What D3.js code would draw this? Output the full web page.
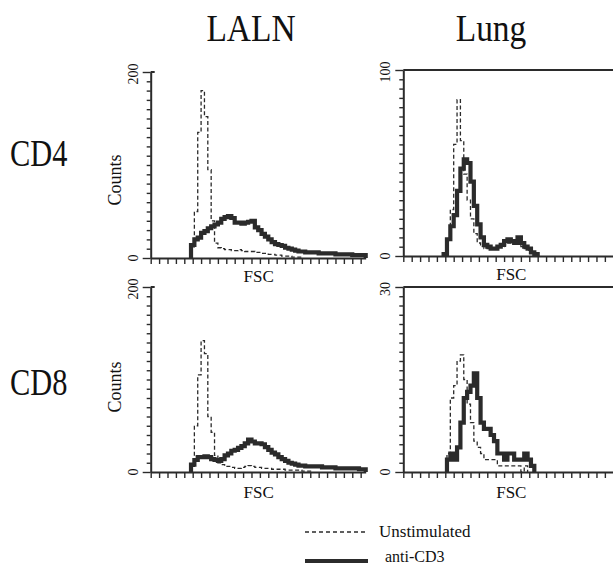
<!DOCTYPE html>
<html>
<head>
<meta charset="utf-8">
<script src="https://cdn.jsdelivr.net/npm/d3@7"></script>
<style>
  body { margin: 0; background: #fff; }
  text { font-family: "Liberation Serif", "Times New Roman", serif; fill: #111; }
</style>
</head>
<body>
<script>
// FSC histograms, 64 bins of 16 channels each (0-1024)
var tissues = ['LALN', 'Lung'];
var subsets = ['CD4', 'CD8'];
var yMaxima = [200, 100, 200, 30];   // LALN CD4, Lung CD4, LALN CD8, Lung CD8
var binWidth = 16;
var channels = d3.range(64).map(function (i) { return i * binWidth; });
var legendLabels = ['Unstimulated', 'anti-CD3'];

var lalnCD4Unstim = [0,0,0,0,0,0,0,0,0,0,0,0,
  12,50,135,180,152,95,40,16,11,10,9,9,8,8,9,8,7,7,7,6,6,5,5,4,4,3,3,2,2,2,1,1,1,
  0,0,0,0,0,0,0,0,0,0,0,0,0,0,0,0,0,0,0];
var lalnCD4Stim = [0,0,0,0,0,0,0,0,0,0,0,0,
  14,20,22,27,29,32,34,36,38,42,44,45,43,38,38,37,38,39,40,33,30,26,23,20,17,15,14,13,11,10,
  9,8,7,7,6,6,6,6,5,5,5,5,5,4,4,4,4,4,3,3,3,3];
var lungCD4Unstim = [0,0,0,0,0,0,0,0,0,0,0,0,0,
  8,25,60,84,62,44,30,20,12,7,5,4,4,4,4,5,5,6,7,8,8,7,5,4,3,2,1,
  0,0,0,0,0,0,0,0,0,0,0,0,0,0,0,0,0,0,0,0,0,0,0,0];
var lungCD4Stim = [0,0,0,0,0,0,0,0,0,0,0,0,
  1,9,16,22,35,47,52,50,40,27,17,10,6,5,4,4,5,6,8,9,8,7,10,7,5,4,2,1,
  0,0,0,0,0,0,0,0,0,0,0,0,0,0,0,0,0,0,0,0,0,0,0,0];
var lalnCD8Unstim = [0,0,0,0,0,0,0,0,0,0,0,0,
  6,50,105,142,128,60,43,18,10,8,6,6,5,4,4,5,6,7,6,5,5,4,4,4,3,3,3,3,2,2,2,2,2,1,1,1,
  0,0,0,0,0,0,0,0,0,0,0,0,0,0,0,0];
var lalnCD8Stim = [0,0,0,0,0,0,0,0,0,0,0,0,
  8,13,16,16,17,16,14,13,12,14,18,20,23,24,26,28,31,35,33,31,31,30,27,24,21,19,16,14,12,10,
  9,8,7,7,6,6,6,6,6,5,5,5,5,4,4,4,4,4,4,4,3,3];
var lungCD8Unstim = [0,0,0,0,0,0,0,0,0,0,0,0,0,
  3,12,14,18,19,15,11,8,5,4,3,2,2,2,2,1,1,1,1,1,1,1,0,1,
  0,0,0,0,0,0,0,0,0,0,0,0,0,0,0,0,0,0,0,0,0,0,0,0,0,0,0];
var lungCD8Stim = [0,0,0,0,0,0,0,0,0,0,0,0,0,
  2,3,2,4,8,12,13,14,16,12,8,7,7,6,5,3,3,2,3,3,2,2,2,3,2,1,
  0,0,0,0,0,0,0,0,0,0,0,0,0,0,0,0,0,0,0,0,0,0,0,0];

var panels = [
  { col: 0, row: 0, yMax: yMaxima[0], unstim: lalnCD4Unstim, stim: lalnCD4Stim, top: 72, bottom: 258 },
  { col: 1, row: 0, yMax: yMaxima[1], unstim: lungCD4Unstim, stim: lungCD4Stim, top: 70, bottom: 256 },
  { col: 0, row: 1, yMax: yMaxima[2], unstim: lalnCD8Unstim, stim: lalnCD8Stim, top: 287, bottom: 472 },
  { col: 1, row: 1, yMax: yMaxima[3], unstim: lungCD8Unstim, stim: lungCD8Stim, top: 287, bottom: 472 }
];
var colX = [150.7, 403.3];
var panelW = 215;
var ink = '#2b2b2b';

var svg = d3.select('body').append('svg')
    .attr('width', 613)
    .attr('height', 565)

// column and row titles (the original type is a bit condensed)
svg.selectAll('.coltitle').data(tissues).enter().append('text')
    .attr('class', 'coltitle')
    .attr('transform', function (d, i) { return 'translate(' + [251, 491][i] + ',41) scale(0.88,1)' })
    .attr('text-anchor', 'middle')
    .style('font-size', '38px')
    .text(function (d) { return d })

svg.selectAll('.rowtitle').data(subsets).enter().append('text')
    .attr('class', 'rowtitle')
    .attr('transform', function (d, i) { return 'translate(10,' + [166, 395][i] + ') scale(0.8,1)' })
    .style('font-size', '38px')
    .text(function (d) { return d })

var line = d3.line().curve(d3.curveStepAfter);

function histPoints(values) {
  var lo = values.findIndex(function (v) { return v > 0 });
  var hi = values.length - 1;
  while (values[hi] === 0) hi--;
  var pts = [[channels[lo], 0]];
  for (var i = lo; i <= hi; i++) pts.push([channels[i], values[i]]);
  pts.push([channels[hi] + binWidth, 0]);
  return pts;
}

panels.forEach(function (p, k) {
  var x0 = colX[p.col];
  var x = d3.scaleLinear().domain([0, 1024]).range([x0, x0 + panelW]);
  var y = d3.scaleLinear().domain([0, p.yMax]).range([p.bottom, p.top]);
  var g = svg.append('g');

  // x axis: ticks every 40 channels
  g.append('g')
      .attr('transform', 'translate(0,' + p.bottom + ')')
      .call(d3.axisBottom(x).tickValues(d3.range(0, 1025, 40)).tickSize(6).tickSizeOuter(0).tickFormat(''))
      .call(function (a) {
        a.select('.domain').attr('stroke', ink).attr('stroke-width', 2);
        a.selectAll('.tick line').attr('stroke', ink).attr('stroke-width', 1.4);
      })

  // y axis: 20 minor ticks
  g.append('g')
      .attr('transform', 'translate(' + x0 + ',0)')
      .call(d3.axisLeft(y).tickValues(d3.range(0, 21).map(function (i) { return i * p.yMax / 20 }))
            .tickSize(4).tickSizeOuter(0).tickFormat(''))
      .call(function (a) {
        a.select('.domain').attr('stroke', ink).attr('stroke-width', 2);
        a.selectAll('.tick line').attr('stroke', ink).attr('stroke-width', 1.4)
          .attr('x2', function (d) { return (d === 0 || d === p.yMax) ? -8 : -4 });
      })

  if (p.col === 1) {
    g.append('line')
        .attr('x1', x0).attr('x2', x0 + panelW)
        .attr('y1', p.top).attr('y2', p.top)
        .attr('stroke', ink).attr('stroke-width', 2)
  } else {
    g.append('line')
        .attr('x1', x0).attr('x2', x0 + 4)
        .attr('y1', p.top).attr('y2', p.top)
        .attr('stroke', ink).attr('stroke-width', 2)
  }

  // y tick labels (rotated)
  [0, p.yMax].forEach(function (v) {
    g.append('text')
        .attr('transform', 'translate(' + (x0 - 13) + ',' + (v === 0 ? p.bottom : p.top + 2) + ') rotate(-90)')
        .attr('text-anchor', 'middle')
        .style('font-size', '14px')
        .text(v)
  })

  if (p.col === 0) {
    g.append('text')
        .attr('transform', 'translate(121,' + [180, 387][p.row] + ') rotate(-90)')
        .attr('text-anchor', 'middle')
        .style('font-size', '18px')
        .text('Counts')
  }

  g.append('text')
      .attr('x', x0 + 108)
      .attr('y', p.bottom + (p.row === 0 ? 24 : 26))
      .attr('text-anchor', 'middle')
      .style('font-size', '17px')
      .text('FSC')

  g.append('path')
      .datum(histPoints(p.unstim).map(function (d) { return [x(d[0]), y(d[1])] }))
      .attr('d', line)
      .attr('fill', 'none')
      .attr('stroke', ink)
      .attr('stroke-width', 1.3)
      .attr('stroke-dasharray', '4,2.5')

  g.append('path')
      .datum(histPoints(p.stim).map(function (d) { return [x(d[0]), y(d[1])] }))
      .attr('d', line)
      .attr('fill', 'none')
      .attr('stroke', ink)
      .attr('stroke-width', 4.2)
})

// legend
var legend = svg.append('g');
legend.append('line')
    .attr('x1', 305).attr('x2', 368).attr('y1', 532).attr('y2', 532)
    .attr('stroke', ink).attr('stroke-width', 1.3).attr('stroke-dasharray', '4,3')
legend.append('text')
    .attr('x', 379).attr('y', 537)
    .style('font-size', '17px')
    .text(legendLabels[0])
legend.append('line')
    .attr('x1', 305).attr('x2', 368).attr('y1', 561).attr('y2', 561)
    .attr('stroke', ink).attr('stroke-width', 4)
legend.append('text')
    .attr('x', 385).attr('y', 562)
    .style('font-size', '16px')
    .text(legendLabels[1])
</script>
</body>
</html>
